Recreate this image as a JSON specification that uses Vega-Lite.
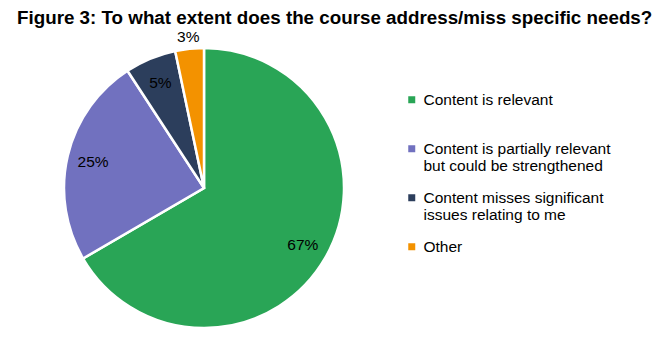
{
  "$schema": "https://vega.github.io/schema/vega-lite/v6.json",
  "autosize": {"type": "none"},
  "padding": {"left": 64, "top": 48, "right": 313, "bottom": 27},
  "width": 280,
  "height": 280,
  "background": "white",
  "title": {
    "text": "Figure 3:  To what extent does the course address/miss specific needs?",
    "anchor": "start",
    "frame": "group",
    "dx": -47,
    "dy": -2,
    "offset": 0,
    "font": "Liberation Sans",
    "fontSize": 18.8,
    "fontWeight": "bold",
    "color": "#000000"
  },
  "data": {
    "values": [
      {"category": "Content is relevant", "value": 66.6, "label": "67%", "rank": 1},
      {"category": "Content is partially relevant but could be strengthened", "value": 24.2, "label": "25%", "rank": 2},
      {"category": "Content misses significant issues relating to me", "value": 5.9, "label": "5%", "rank": 3},
      {"category": "Other", "value": 3.3, "label": "3%", "rank": 4}
    ]
  },
  "encoding": {
    "theta": {"field": "value", "type": "quantitative", "stack": true},
    "order": {"field": "rank", "type": "quantitative"},
    "color": {
      "field": "category",
      "type": "nominal",
      "scale": {
        "domain": ["Content is relevant", "Content is partially relevant but could be strengthened", "Content misses significant issues relating to me", "Other"],
        "range": ["#29a556", "#7171bf", "#2c3e5c", "#f39200"]
      },
      "legend": {
        "title": null,
        "orient": "none",
        "legendX": 340,
        "legendY": 44,
        "symbolType": "square",
        "symbolSize": 49,
        "symbolStrokeWidth": 0,
        "labelFont": "Liberation Sans",
        "labelFontSize": 15.5,
        "labelColor": "#000000",
        "labelLimit": 400,
        "gridAlign": "all",
        "rowPadding": 15,
        "labelExpr": "datum.label == 'Content is partially relevant but could be strengthened' ? ['Content is partially relevant', 'but could be strengthened'] : datum.label == 'Content misses significant issues relating to me' ? ['Content misses significant', 'issues relating to me'] : datum.label"
      }
    }
  },
  "layer": [
    {
      "mark": {"type": "arc", "outerRadius": 140, "stroke": "white", "strokeWidth": 2.5}
    },
    {
      "mark": {"type": "text", "radius": 114, "font": "Liberation Sans", "fontSize": 15.5, "color": "#000000"},
      "encoding": {
        "text": {"condition": {"test": "datum.category != 'Other'", "field": "label"}, "value": ""},
        "color": {"value": "#000000"}
      }
    },
    {
      "mark": {"type": "text", "radius": 152, "font": "Liberation Sans", "fontSize": 15.5, "color": "#000000"},
      "encoding": {
        "text": {"condition": {"test": "datum.category == 'Other'", "field": "label"}, "value": ""},
        "color": {"value": "#000000"}
      }
    }
  ]
}
